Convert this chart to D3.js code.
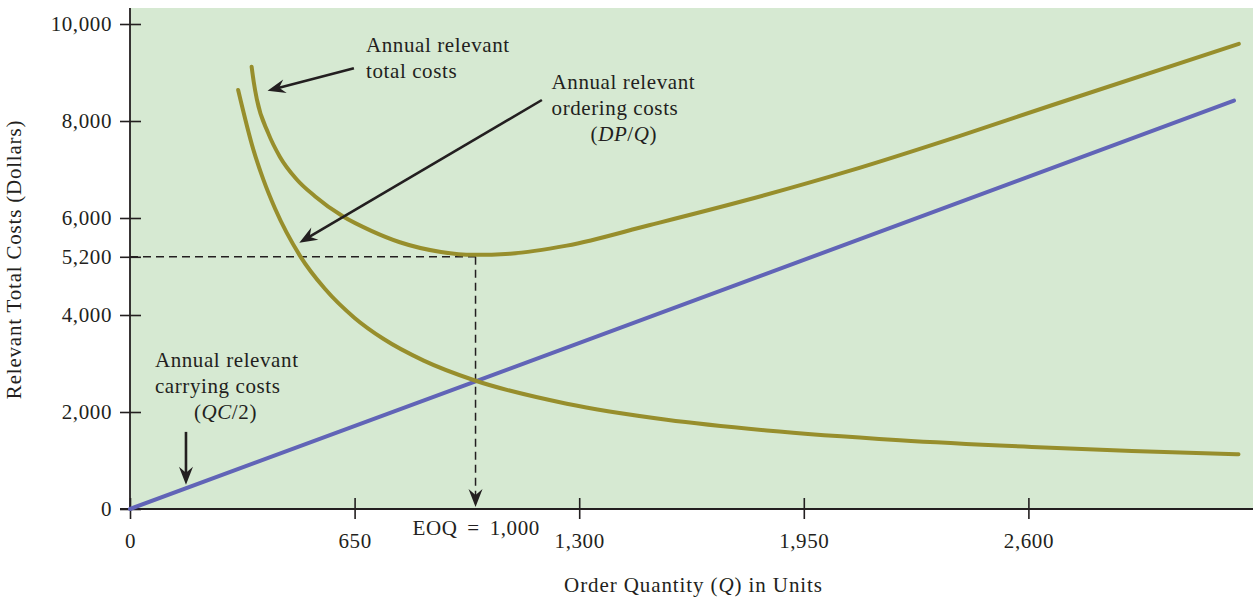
<!DOCTYPE html>
<html>
<head>
<meta charset="utf-8">
<script src="https://cdn.jsdelivr.net/npm/d3@7"></script>
<style>
  html, body { margin: 0; padding: 0; background: #ffffff; }
  svg { display: block; }
  text { font-family: "Liberation Serif", "DejaVu Serif", serif; fill: #231f20; }
</style>
</head>
<body>
<svg id="chart" width="1259" height="597"></svg>
<script>
// ---------------- data ----------------
const xTicks = [0, 650, 1300, 1950, 2600];
const yTicks = [0, 2000, 4000, 5200, 6000, 8000, 10000];

// Annual relevant carrying costs (QC/2)
const carryingQ    = [0, 1000, 3195];
const carryingCost = [0, 2630, 8420];

// Annual relevant ordering costs (DP/Q)
const orderingQ    = [313, 357, 386, 420, 492, 564, 650, 733, 850, 994, 1264, 1553, 1843, 2228, 2610, 2900, 3208];
const orderingCost = [8640, 7410, 6790, 6190, 5220, 4540, 3940, 3510, 3060, 2660, 2170, 1840, 1620, 1420, 1280, 1195, 1130];

// Annual relevant total costs
const totalQ    = [352, 358, 367, 400, 434, 482, 535, 617, 700, 781, 900, 994, 1100, 1264, 1505, 1785, 2084, 2400, 2670, 3209];
const totalCost = [9120, 8810, 8450, 7750, 7260, 6800, 6450, 6030, 5730, 5500, 5300, 5240, 5265, 5430, 5856, 6371, 6977, 7690, 8330, 9590];

const eoqQ = 1000, eoqCost = 5200;

// ---------------- layout ----------------
const svg = d3.select("#chart");
const x = d3.scaleLinear().domain([0, 3250]).range([130, 1253]);
const y = d3.scaleLinear().domain([0, 10000]).range([509, 24]);
const plotTop = 8;

const C = {
  bg: "#d6e9d2",
  olive: "#978e2c",
  blue: "#6164b7",
  ink: "#231f20"
};

// background
svg.append("rect")
  .attr("x", x(0)).attr("y", plotTop)
  .attr("width", x(3250) - x(0)).attr("height", y(0) - plotTop)
  .attr("fill", C.bg);

// axes
const fmt = d3.format(",");
const yAxis = d3.axisLeft(y).tickValues(yTicks).tickFormat(fmt).tickSizeInner(10).tickSizeOuter(0).tickPadding(8);
const xAxis = d3.axisBottom(x).tickValues(xTicks).tickFormat(fmt).tickSizeInner(10).tickSizeOuter(0).tickPadding(14);

const gy = svg.append("g").attr("transform", `translate(${x(0)},0)`).call(yAxis);
gy.select(".domain").remove();
gy.selectAll(".tick line").attr("x2", 11).attr("x1", -10).attr("stroke", C.ink).attr("stroke-width", 1.6);
gy.selectAll(".tick text").attr("font-size", 21).attr("letter-spacing", "0.6px")
  .attr("font-family", "Liberation Serif").attr("fill", C.ink);

const gx = svg.append("g").attr("transform", `translate(0,${y(0)})`).call(xAxis);
gx.select(".domain").remove();
gx.selectAll(".tick line").attr("y1", -11).attr("y2", 10).attr("stroke", C.ink).attr("stroke-width", 1.6);
gx.selectAll(".tick text").attr("font-size", 21).attr("letter-spacing", "0.6px")
  .attr("font-family", "Liberation Serif").attr("fill", C.ink);

// axis lines
svg.append("line").attr("x1", x(0)).attr("x2", x(0)).attr("y1", plotTop).attr("y2", y(0))
  .attr("stroke", C.ink).attr("stroke-width", 1.8);
svg.append("line").attr("x1", x(0) - 10).attr("x2", x(3250)).attr("y1", y(0)).attr("y2", y(0))
  .attr("stroke", C.ink).attr("stroke-width", 1.8);

// ---------------- helper: arrow head ----------------
function arrowHead(g, x1, y1, x2, y2, len, half, notch) {
  const a = Math.atan2(y2 - y1, x2 - x1);
  const ux = Math.cos(a), uy = Math.sin(a);
  const px = -uy, py = ux;
  const bx = x2 - ux * len, by = y2 - uy * len;
  const nx = x2 - ux * (len - notch), ny = y2 - uy * (len - notch);
  g.append("path")
    .attr("d", `M${x2},${y2}L${bx + px * half},${by + py * half}L${nx},${ny}L${bx - px * half},${by - py * half}Z`)
    .attr("fill", C.ink);
}
function arrow(x1, y1, x2, y2, dashed) {
  const g = svg.append("g");
  const a = Math.atan2(y2 - y1, x2 - x1);
  g.append("line")
    .attr("x1", x1).attr("y1", y1)
    .attr("x2", x2 - Math.cos(a) * 8).attr("y2", y2 - Math.sin(a) * 8)
    .attr("stroke", C.ink).attr("stroke-width", dashed ? 1.5 : 2.6)
    .attr("stroke-dasharray", dashed ? "8,5" : null);
  arrowHead(g, x1, y1, x2, y2, 18, 7, 6);
}

// ---------------- EOQ dashed guides ----------------
svg.append("line")
  .attr("x1", x(0)).attr("x2", x(eoqQ) + 1)
  .attr("y1", y(eoqCost)).attr("y2", y(eoqCost))
  .attr("stroke", C.ink).attr("stroke-width", 1.5).attr("stroke-dasharray", "8,5");
arrow(x(eoqQ), y(eoqCost), x(eoqQ), y(0) - 2, true);

// ---------------- series ----------------
const line = d3.line().x(d => x(d[0])).y(d => y(d[1])).curve(d3.curveMonotoneX);

svg.append("path")
  .datum(carryingQ.map((q, i) => [q, carryingCost[i]]))
  .attr("d", d3.line().x(d => x(d[0])).y(d => y(d[1])))
  .attr("fill", "none").attr("stroke", C.blue).attr("stroke-width", 4).attr("stroke-linecap", "round");

svg.append("path")
  .datum(orderingQ.map((q, i) => [q, orderingCost[i]]))
  .attr("d", line)
  .attr("fill", "none").attr("stroke", C.olive).attr("stroke-width", 4).attr("stroke-linecap", "round");

svg.append("path")
  .datum(totalQ.map((q, i) => [q, totalCost[i]]))
  .attr("d", line)
  .attr("fill", "none").attr("stroke", C.olive).attr("stroke-width", 4).attr("stroke-linecap", "round");

// ---------------- annotations ----------------
function label(px, py, lines) {
  const t = svg.append("text").attr("x", px).attr("y", py)
    .attr("font-size", 21).attr("letter-spacing", "0.6px");
  lines.forEach((ln, i) => {
    const ts = t.append("tspan").attr("x", px + (ln.dx || 0)).attr("dy", i === 0 ? 0 : 26);
    ln.parts.forEach(p => {
      ts.append("tspan").attr("font-style", p.it ? "italic" : "normal").text(p.t);
    });
  });
}

// total costs
label(x(683), y(9420), [
  { parts: [{ t: "Annual relevant" }] },
  { parts: [{ t: "total costs" }] }
]);
arrow(x(648), y(9087), x(398), y(8625));

// ordering costs
label(x(1220), y(8660), [
  { parts: [{ t: "Annual relevant" }] },
  { parts: [{ t: "ordering costs" }] },
  { dx: 39, parts: [{ t: "(" }, { t: "DP", it: true }, { t: "/" }, { t: "Q", it: true }, { t: ")" }] }
]);
arrow(x(1192), y(8433), x(490), y(5490));

// carrying costs
label(x(72), y(2930), [
  { parts: [{ t: "Annual relevant" }] },
  { parts: [{ t: "carrying costs" }] },
  { dx: 39, parts: [{ t: "(" }, { t: "QC", it: true }, { t: "/2)" }] }
]);
arrow(x(162), y(1590), x(162), y(500));

// EOQ label
svg.append("text").attr("x", x(eoqQ) - 63).attr("y", y(0) + 26)
  .attr("font-size", 21).attr("letter-spacing", "0.6px").attr("word-spacing", "4px")
  .text("EOQ = 1,000");

// ---------------- axis titles ----------------
const xt = svg.append("text").attr("x", x(1625) + 2).attr("y", 592)
  .attr("text-anchor", "middle").attr("font-size", 21).attr("letter-spacing", "0.9px");
xt.append("tspan").text("Order Quantity (");
xt.append("tspan").attr("font-style", "italic").text("Q");
xt.append("tspan").text(") in Units");

svg.append("text")
  .attr("transform", `translate(21,${(y(0) + plotTop) / 2 + 1}) rotate(-90)`)
  .attr("text-anchor", "middle").attr("font-size", 21).attr("letter-spacing", "0.8px")
  .text("Relevant Total Costs (Dollars)");
</script>
</body>
</html>
